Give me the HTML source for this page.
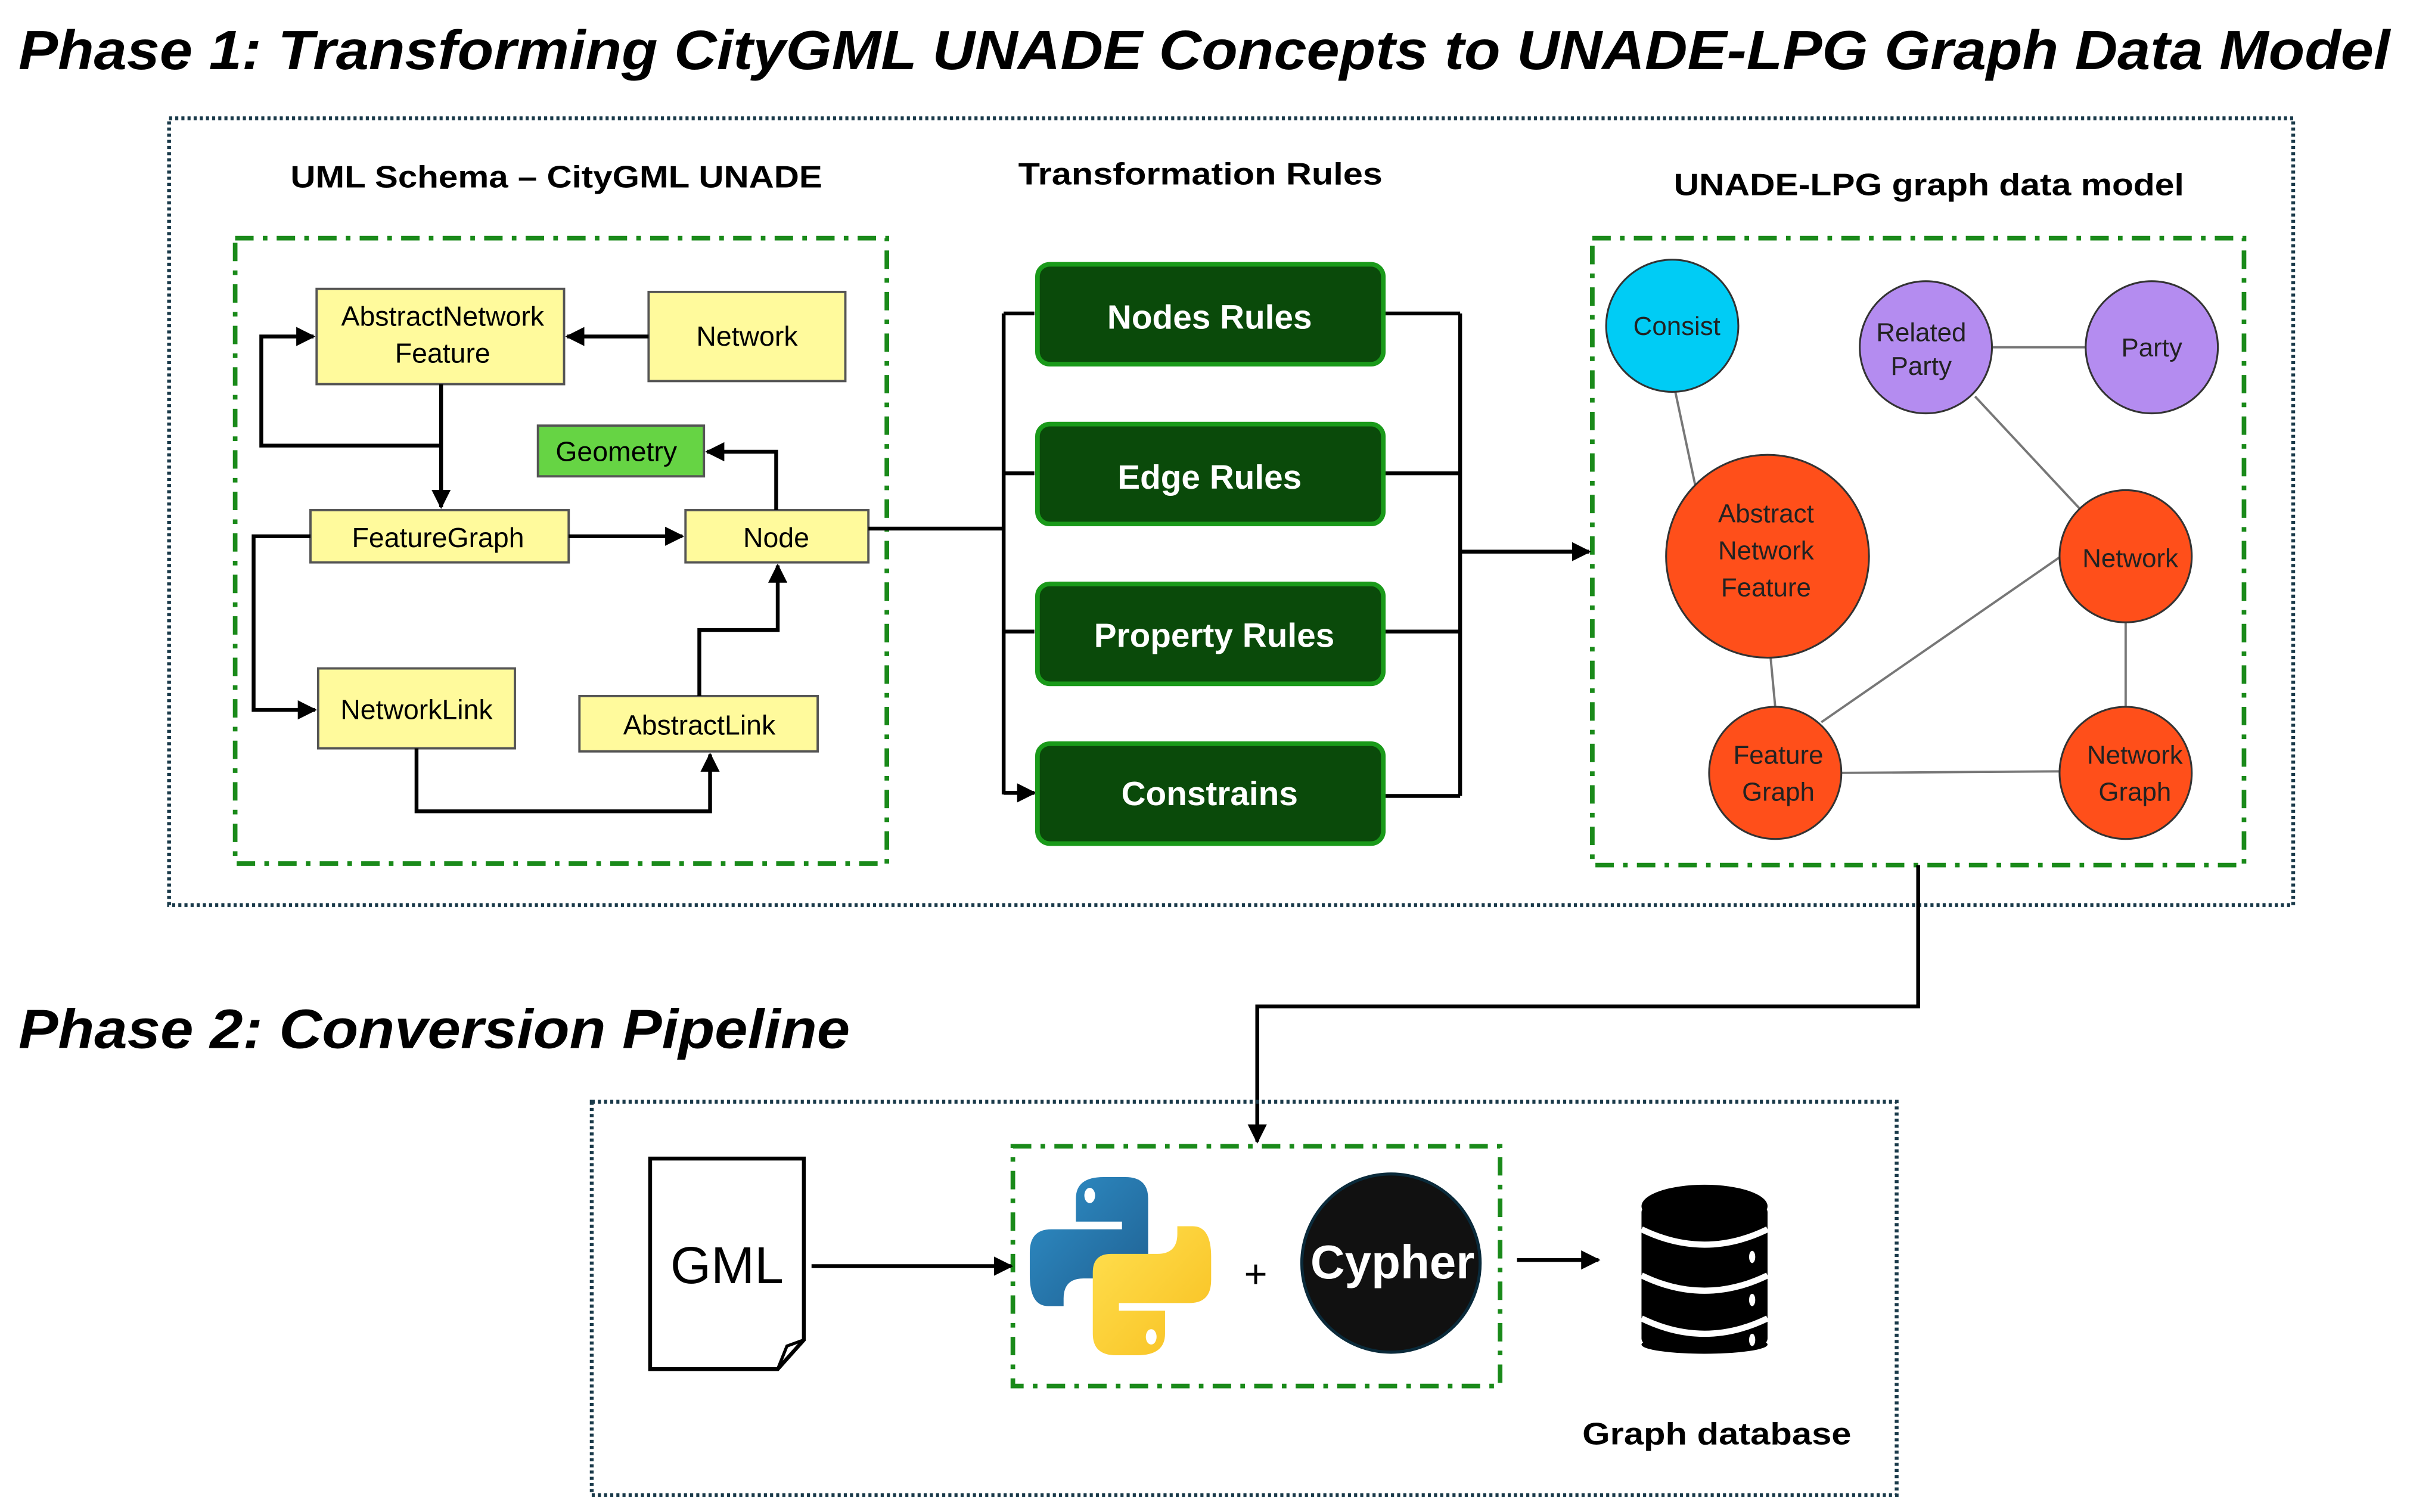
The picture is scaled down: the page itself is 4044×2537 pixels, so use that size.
<!DOCTYPE html>
<html><head><meta charset="utf-8"><style>
html,body{margin:0;padding:0;background:#fff;}
svg{display:block;}
text{font-family:"Liberation Sans",sans-serif;}
</style></head><body>
<svg width="4044" height="2537" viewBox="0 0 1568 984" preserveAspectRatio="none" xmlns="http://www.w3.org/2000/svg">
<defs>
<marker id="a" viewBox="0 0 10 10" refX="9" refY="5" markerWidth="5" markerHeight="5" orient="auto"><path d="M0,0L10,5L0,10z" fill="#000"/></marker>
<linearGradient id="pb" x1="0" y1="0" x2="1" y2="1"><stop offset="0" stop-color="#2f8fc8"/><stop offset="1" stop-color="#1f5f90"/></linearGradient>
<linearGradient id="py" x1="0" y1="0" x2="1" y2="1"><stop offset="0" stop-color="#f8c020"/><stop offset="1" stop-color="#ffe050"/></linearGradient>
</defs>
<text x="12" y="45" font-size="36" font-weight="bold" font-style="italic" textLength="1543" lengthAdjust="spacingAndGlyphs">Phase 1: Transforming CityGML UNADE Concepts to UNADE-LPG Graph Data Model</text>
<rect x="110" y="77" width="1382" height="512" fill="none" stroke="#1a3a4a" stroke-width="2.5" stroke-dasharray="2,2"/>
<g font-size="20" font-weight="bold" text-anchor="middle">
<text x="362" y="122" textLength="346" lengthAdjust="spacingAndGlyphs">UML Schema – CityGML UNADE</text>
<text x="781" y="120" textLength="237" lengthAdjust="spacingAndGlyphs">Transformation Rules</text>
<text x="1255" y="127" textLength="332" lengthAdjust="spacingAndGlyphs">UNADE-LPG graph data model</text>
</g>
<g fill="none" stroke="#1a8a1a" stroke-width="3" stroke-dasharray="12,6,3,6">
<rect x="153" y="155" width="424" height="407"/>
<rect x="1036" y="155" width="424" height="408"/>
<rect x="659" y="746" width="317" height="156"/>
</g>
<g stroke="#555" stroke-width="1.5" fill="#fffa9c">
<rect x="206" y="188" width="161" height="62"/>
<rect x="422" y="190" width="128" height="58"/>
<rect x="350" y="277" width="108" height="33" fill="#66d444"/>
<rect x="202" y="332" width="168" height="34"/>
<rect x="446" y="332" width="119" height="34"/>
<rect x="207" y="435" width="128" height="52"/>
<rect x="377" y="453" width="155" height="36"/>
</g>
<g font-size="18" text-anchor="middle">
<text x="288" y="212">AbstractNetwork</text><text x="288" y="236">Feature</text>
<text x="486" y="225">Network</text>
<text x="401" y="300">Geometry</text>
<text x="285" y="356">FeatureGraph</text>
<text x="505" y="356">Node</text>
<text x="271" y="468">NetworkLink</text>
<text x="455" y="478">AbstractLink</text>
</g>
<g fill="none" stroke="#000" stroke-width="2.5">
<path d="M422,219H369" marker-end="url(#a)"/>
<path d="M287,250V330" marker-end="url(#a)"/>
<path d="M287,290H170V219H204" marker-end="url(#a)"/>
<path d="M370,349H444" marker-end="url(#a)"/>
<path d="M505,332V294H460" marker-end="url(#a)"/>
<path d="M455,453V410H506V368" marker-end="url(#a)"/>
<path d="M202,349H165V462H205" marker-end="url(#a)"/>
<path d="M271,487V528H462V491" marker-end="url(#a)"/>
<path d="M565,344H653"/>
<path d="M653,204V517"/>
<path d="M653,204H673M653,308H673M653,411H673M653,516H673" marker-end="url(#a)"/>
<path d="M900,204H950M900,308H950M900,411H950M900,518H950M950,204V518"/>
<path d="M950,359H1034" marker-end="url(#a)"/>
<path d="M1248,563V655H818V743" marker-end="url(#a)"/>
<path d="M528,824H658" marker-end="url(#a)"/>
<path d="M987,820H1040" marker-end="url(#a)"/>
</g>
<g fill="#0a4a0a" stroke="#1a9a1a" stroke-width="3">
<rect x="675" y="172" width="225" height="65" rx="8"/>
<rect x="675" y="276" width="225" height="65" rx="8"/>
<rect x="675" y="380" width="225" height="65" rx="8"/>
<rect x="675" y="484" width="225" height="65" rx="8"/>
</g>
<g fill="#fff" font-size="22" font-weight="bold" text-anchor="middle">
<text x="787" y="214">Nodes Rules</text>
<text x="787" y="318">Edge Rules</text>
<text x="790" y="421">Property Rules</text>
<text x="787" y="524">Constrains</text>
</g>
<g stroke="#777" stroke-width="1.5">
<line x1="1090" y1="255" x2="1103" y2="316"/>
<line x1="1296" y1="226" x2="1357" y2="226"/>
<line x1="1285" y1="258" x2="1354" y2="332"/>
<line x1="1152" y1="428" x2="1155" y2="460"/>
<line x1="1185" y1="470" x2="1341" y2="362"/>
<line x1="1383" y1="405" x2="1383" y2="460"/>
<line x1="1198" y1="503" x2="1340" y2="502"/>
</g>
<g stroke="#333" stroke-width="1.2">
<circle cx="1088" cy="212" r="43" fill="#00ccf5"/>
<circle cx="1253" cy="226" r="43" fill="#b48cf0"/>
<circle cx="1400" cy="226" r="43" fill="#b48cf0"/>
<circle cx="1150" cy="362" r="66" fill="#ff4f1a"/>
<circle cx="1383" cy="362" r="43" fill="#ff4f1a"/>
<circle cx="1155" cy="503" r="43" fill="#ff4f1a"/>
<circle cx="1383" cy="503" r="43" fill="#ff4f1a"/>
</g>
<g font-size="17" text-anchor="middle" fill="#222">
<text x="1091" y="218">Consist</text>
<text x="1250" y="222">Related</text><text x="1250" y="244">Party</text>
<text x="1400" y="232">Party</text>
<text x="1149" y="340">Abstract</text><text x="1149" y="364">Network</text><text x="1149" y="388">Feature</text>
<text x="1386" y="369">Network</text>
<text x="1157" y="497">Feature</text><text x="1157" y="521">Graph</text>
<text x="1389" y="497">Network</text><text x="1389" y="521">Graph</text>
</g>
<text x="12" y="682" font-size="36" font-weight="bold" font-style="italic" textLength="541" lengthAdjust="spacingAndGlyphs">Phase 2: Conversion Pipeline</text>
<rect x="385" y="717" width="849" height="256" fill="none" stroke="#1a3a4a" stroke-width="2.5" stroke-dasharray="2,2"/>
<path d="M423,754H523V872L506,891H423Z" fill="#fff" stroke="#000" stroke-width="2.5"/>
<path d="M523,872L512,876L506,891" fill="none" stroke="#000" stroke-width="2"/>
<text x="473" y="835" font-size="34" text-anchor="middle">GML</text>
<path id="pyb" d="M700,780Q700,766 718,766H732Q747,766 747,780V820Q747,832 735,832H705Q692,832 692,845V850H682Q670,850 670,830V815Q670,800 684,800H730V795H700Z" fill="url(#pb)"/>
<path d="M700,780Q700,766 718,766H732Q747,766 747,780V820Q747,832 735,832H705Q692,832 692,845V850H682Q670,850 670,830V815Q670,800 684,800H730V795H700Z" fill="url(#py)" transform="rotate(180 729 824)"/>
<ellipse cx="709" cy="778" rx="3.5" ry="5" fill="#fff"/><ellipse cx="749" cy="870" rx="3.5" ry="5" fill="#fff"/>
<text x="817" y="838" font-size="26" text-anchor="middle">+</text>
<ellipse cx="905" cy="822" rx="58" ry="58" fill="#111" stroke="#0a2a3a" stroke-width="2"/>
<text x="906" y="832" font-size="31" font-weight="bold" fill="#fff" text-anchor="middle">Cypher</text>
<g fill="#000">
<rect x="1068" y="785" width="82" height="90" rx="4"/>
<ellipse cx="1109" cy="785" rx="41" ry="14"/>
<ellipse cx="1109" cy="875" rx="41" ry="6"/>
</g>
<g fill="none" stroke="#fff" stroke-width="4">
<path d="M1068,800q41,20 82,0"/><path d="M1068,830q41,20 82,0"/><path d="M1068,858q41,20 82,0"/>
</g>
<g fill="#fff"><ellipse cx="1140" cy="818" rx="2" ry="4"/><ellipse cx="1140" cy="846" rx="2" ry="4"/><ellipse cx="1140" cy="872" rx="2" ry="4"/></g>
<text x="1117" y="940" font-size="20" font-weight="bold" text-anchor="middle" textLength="175" lengthAdjust="spacingAndGlyphs">Graph database</text>
</svg>
</body></html>
